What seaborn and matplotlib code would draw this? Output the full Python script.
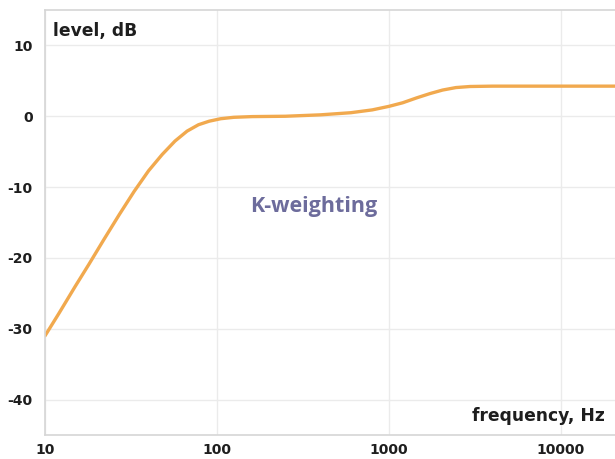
#!/usr/bin/env python3
"""
K-weighting frequency response curve
"""

import pandas as pd
import matplotlib
matplotlib.use('Agg')
import matplotlib.pyplot as plt
import seaborn as sns

# Values
freq_hz = [10, 12, 15, 18, 22, 27, 33, 40, 48, 57, 67, 78, 90, 105, 125, 160,
           250, 400, 600, 800, 1000, 1200, 1450, 1730, 2050, 2450, 2960, 4000,
           10000, 20600]
level_db = [-31.0, -27.9, -24.0, -20.9, -17.4, -13.9, -10.6, -7.7, -5.4, -3.5, -2.1, -1.2,
            -0.7, -0.35, -0.15, -0.05, 0.0, 0.2, 0.5, 0.9, 1.4, 1.9, 2.6, 3.2, 3.7, 4.05,
            4.2, 4.25, 4.25, 4.25]

x_ticks = [10, 100, 1000, 10000]
x_tick_labels = ['10', '100', '1000', '10000']
y_ticks = [-40, -30, -20, -10, 0, 10]


def main():
    sns.set_theme(style='whitegrid')
    plt.rcParams['font.family'] = ['DejaVu Sans']
    plt.rcParams['axes.unicode_minus'] = False

    df = pd.DataFrame({'freq': freq_hz, 'level': level_db})

    fig = plt.figure(figsize=(6.15, 4.59), dpi=100)
    ax = fig.add_axes([45 / 615, 1 - 435 / 459, 1 - 45 / 615, (435 - 10) / 459])

    sns.lineplot(data=df, x='freq', y='level', ax=ax, color='#f1a94e', linewidth=2.4)

    ax.set_xscale('log')
    ax.set_xlim(10, 20600)
    ax.set_ylim(-45, 15)
    ax.set_xticks(x_ticks)
    ax.set_xticklabels(x_tick_labels)
    ax.minorticks_off()
    ax.set_yticks(y_ticks)
    ax.set_xlabel('')
    ax.set_ylabel('')

    ax.grid(True, color='#ebebeb', linewidth=1.0)
    for side in ['left', 'top', 'bottom']:
        ax.spines[side].set_visible(True)
        ax.spines[side].set_color('#d6d6d6')
        ax.spines[side].set_linewidth(1.2)
    ax.spines['right'].set_visible(False)

    ax.tick_params(axis='both', length=0, labelsize=10, colors='#1e1e1e')
    ax.tick_params(axis='x', pad=6)
    ax.tick_params(axis='y', pad=9)
    for lbl in ax.get_xticklabels() + ax.get_yticklabels():
        lbl.set_fontweight('bold')

    ax.text(0.014, 0.95, 'level, dB', transform=ax.transAxes, fontsize=12.3,
            fontweight='bold', color='#1e1e1e', ha='left', va='center')
    ax.text(0.982, 0.045, 'frequency, Hz', transform=ax.transAxes, fontsize=12.3,
            fontweight='bold', color='#1e1e1e', ha='right', va='center')
    ax.text(366, -12.7, 'K-weighting', fontsize=15.5, fontweight='bold',
            color='#6d6c9c', ha='center', va='center', family=['Open Sans', 'DejaVu Sans'])

    fig.savefig('out.png', dpi=100)


if __name__ == "__main__":
    main()
